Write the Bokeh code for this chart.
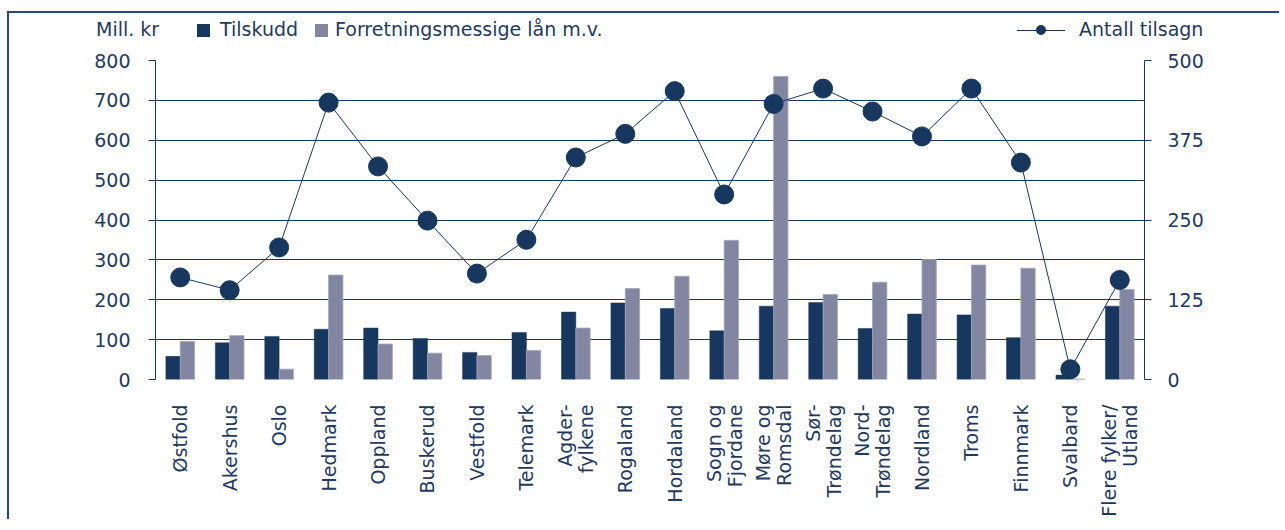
from bokeh.plotting import figure
from bokeh.layouts import column
from bokeh.models import Range1d, LinearAxis, FixedTicker, ColumnDataSource, Div
from bokeh.embed import file_html
from bokeh.resources import INLINE
import math

categories = ["Østfold", "Akershus", "Oslo", "Hedmark", "Oppland", "Buskerud",
              "Vestfold", "Telemark", "Agder-\nfylkene", "Rogaland", "Hordaland",
              "Sogn og\nFjordane", "Møre og\nRomsdal", "Sør-\nTrøndelag",
              "Nord-\nTrøndelag", "Nordland", "Troms", "Finnmark", "Svalbard",
              "Flere fylker/\nUtland"]
tilskudd = [58, 92, 108, 126, 129, 103, 68, 118, 169, 192, 178, 122, 184, 193,
            128, 164, 162, 105, 11, 184]
forretning = [95, 110, 26, 262, 89, 66, 60, 73, 129, 228, 259, 349, 760, 213,
              244, 301, 287, 279, 1, 226]
antall = [160, 140, 207, 434, 334, 249, 166, 219, 348, 385, 452, 290, 432, 456,
          420, 381, 456, 340, 16, 156]
left_ticks = [0, 100, 200, 300, 400, 500, 600, 700, 800]
right_ticks = [0, 125, 250, 375, 500]
unit_label = "Mill. kr"
series_names = ["Tilskudd", "Forretningsmessige lån m.v.", "Antall tilsagn"]

NAVY = "#17375E"
GREY = "#8286A0"
TXT = "#1F3A60"
FONT = "DejaVu Sans"
FS = "19px"
W = 1270

n = len(categories)
centers = [i + 0.5 for i in range(n)]
bw = 0.29
src = ColumnDataSource(dict(
    x=centers,
    x_dark=[c - bw / 2 for c in centers],
    x_grey=[c + bw / 2 for c in centers],
    tilskudd=tilskudd, forretning=forretning, antall=antall))

# ---------- legend strip (HTML) ----------
txt_css = "position:absolute;top:7px;line-height:19px;white-space:nowrap;"
html = f"""
<div style="position:relative;width:{W}px;height:34px;font-family:'{FONT}';
font-size:{FS};color:{TXT};">
  <span style="{txt_css}left:87px;">{unit_label}</span>
  <span style="position:absolute;left:188px;top:11px;width:13px;height:13px;background:{NAVY};"></span>
  <span style="{txt_css}left:211px;">{series_names[0]}</span>
  <span style="position:absolute;left:306px;top:11px;width:13px;height:13px;background:{GREY};"></span>
  <span style="{txt_css}left:326px;">{series_names[1]}</span>
  <span style="position:absolute;left:1008px;top:17px;width:48px;height:1px;background:{NAVY};"></span>
  <span style="position:absolute;left:1027px;top:12px;width:10px;height:10px;border-radius:50%;background:{NAVY};"></span>
  <span style="{txt_css}left:1070px;">{series_names[2]}</span>
</div>
"""
top = Div(text=html, width=W, height=34, margin=0)

# ---------- main chart ----------
p = figure(frame_width=989, frame_height=319,
           x_range=Range1d(0, n), y_range=Range1d(0, 800),
           output_backend="svg", toolbar_location=None,
           min_border_left=146, min_border_right=W - 146 - 989,
           min_border_top=13, min_border_bottom=140)
p.outline_line_color = None
p.extra_y_ranges = {"right": Range1d(0, 500)}

p.xgrid.visible = False
p.ygrid.ticker = FixedTicker(ticks=left_ticks)
p.ygrid.grid_line_color = NAVY
p.ygrid.grid_line_width = 1

ya = p.yaxis[0]
ya.ticker = FixedTicker(ticks=left_ticks)
ya.axis_line_color = NAVY
ya.major_tick_line_color = NAVY
ya.major_tick_out = 7
ya.major_tick_in = 0
ya.minor_tick_line_color = None
ya.major_label_standoff = 18
ya.major_label_text_font = FONT
ya.major_label_text_font_size = FS
ya.major_label_text_color = TXT

ra = LinearAxis(y_range_name="right", ticker=FixedTicker(ticks=right_ticks))
ra.axis_line_color = NAVY
ra.major_tick_line_color = NAVY
ra.major_tick_out = 7
ra.major_tick_in = 0
ra.minor_tick_line_color = None
ra.major_label_standoff = 16
ra.major_label_text_font = FONT
ra.major_label_text_font_size = FS
ra.major_label_text_color = TXT
p.add_layout(ra, "right")

xa = p.xaxis[0]
xa.ticker = FixedTicker(ticks=centers)
xa.major_label_overrides = {c: lab for c, lab in zip(centers, categories)}
xa.major_label_orientation = math.pi / 2
xa.major_label_text_align = "right"
xa.major_label_text_line_height = 0.95
xa.axis_line_color = None
xa.major_tick_line_color = None
xa.minor_tick_line_color = None
xa.major_tick_out = 0
xa.major_tick_in = 0
xa.major_label_standoff = 25
xa.major_label_text_font = FONT
xa.major_label_text_font_size = FS
xa.major_label_text_color = TXT

p.vbar(x="x_dark", top="tilskudd", width=bw, source=src,
       fill_color=NAVY, line_color=NAVY, line_width=0.5)
p.vbar(x="x_grey", top="forretning", width=bw, source=src,
       fill_color=GREY, line_color="#A3A6BA", line_width=0.8)
p.line(x="x", y="antall", source=src, y_range_name="right",
       line_color=NAVY, line_width=1)
p.scatter(x="x", y="antall", source=src, y_range_name="right",
          size=19, fill_color=NAVY, line_color=NAVY)

layout = column(top, p, spacing=0)
layout.styles = {"position": "relative", "top": "11px", "left": "7px",
                 "border-left": "2px solid #2B4A75", "border-top": "2px solid #2B4A75"}

open("out.html", "w").write(file_html(layout, INLINE))
